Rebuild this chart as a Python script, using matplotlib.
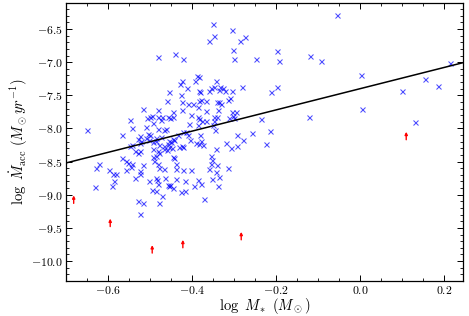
import matplotlib
matplotlib.use("Agg")
import matplotlib.pyplot as plt
from matplotlib.ticker import MultipleLocator

plt.rcParams['font.family'] = 'serif'
plt.rcParams['font.serif'] = ['cmr10', 'DejaVu Serif']
plt.rcParams['mathtext.fontset'] = 'cm'
plt.rcParams['axes.formatter.use_mathtext'] = True

# detections: log M* (Msun), log Macc (Msun/yr)
log_mstar = [
    -0.055, -0.198, -0.248, -0.193, -0.119, -0.093, 0.214, 0.002, 0.154, 0.186,
    0.101, -0.212, -0.198, 0.005, -0.122, -0.236, 0.132, -0.257, -0.214, -0.278,
    -0.225, -0.350, -0.304, -0.348, -0.360, -0.274, -0.286, -0.302, -0.440, -0.421,
    -0.299, -0.482, -0.389, -0.383, -0.424, -0.429, -0.394, -0.343, -0.413, -0.356,
    -0.349, -0.333, -0.327, -0.281, -0.384, -0.380, -0.360, -0.335, -0.321, -0.305,
    -0.426, -0.460, -0.425, -0.423, -0.409, -0.399, -0.383, -0.378, -0.368, -0.341,
    -0.335, -0.331, -0.315, -0.310, -0.386, -0.368, -0.338, -0.446, -0.458, -0.452,
    -0.445, -0.402, -0.386, -0.383, -0.376, -0.367, -0.347, -0.341, -0.349, -0.311,
    -0.303, -0.295, -0.305, -0.299, -0.386, -0.408, -0.351, -0.345, -0.462, -0.422,
    -0.414, -0.434, -0.410, -0.380, -0.446, -0.442, -0.450, -0.458, -0.404, -0.379,
    -0.293, -0.390, -0.383, -0.375, -0.319, -0.294, -0.307, -0.424, -0.421, -0.430,
    -0.454, -0.448, -0.460, -0.343, -0.355, -0.445, -0.454, -0.516, -0.480, -0.508,
    -0.500, -0.495, -0.482, -0.471, -0.547, -0.492, -0.474, -0.543, -0.510, -0.651,
    -0.567, -0.505, -0.500, -0.482, -0.466, -0.525, -0.529, -0.521, -0.510, -0.503,
    -0.486, -0.474, -0.549, -0.543, -0.525, -0.494, -0.487, -0.478, -0.466, -0.455,
    -0.535, -0.525, -0.529, -0.494, -0.482, -0.478, -0.466, -0.494, -0.486, -0.567,
    -0.557, -0.553, -0.621, -0.629, -0.543, -0.545, -0.598, -0.589, -0.581, -0.557,
    -0.525, -0.517, -0.524, -0.537, -0.587, -0.590, -0.631, -0.490, -0.482, -0.478,
    -0.468, -0.464, -0.486, -0.483, -0.503, -0.482, -0.495, -0.487, -0.455, -0.452,
    -0.471, -0.529, -0.516, -0.479, -0.523, -0.442, -0.352, -0.438, -0.356, -0.359,
    -0.341, -0.315, -0.438, -0.422, -0.402, -0.343, -0.438, -0.418, -0.353, -0.335,
    -0.386, -0.379, -0.395, -0.458, -0.446, -0.339, -0.426, -0.418, -0.371,
]
log_macc = [
    -6.290, -6.830, -6.955, -6.976, -6.905, -6.985, -7.011, -7.191, -7.255, -7.356,
    -7.431, -7.446, -7.375, -7.706, -7.821, -7.851, -7.907, -8.066, -8.032, -8.171,
    -8.227, -6.429, -6.515, -6.601, -6.676, -6.620, -6.680, -6.811, -6.875, -6.955,
    -6.955, -6.920, -7.206, -7.216, -7.281, -7.326, -7.281, -7.291, -7.386, -7.386,
    -7.375, -7.381, -7.390, -7.375, -7.431, -7.450, -7.441, -7.426, -7.431, -7.431,
    -7.502, -7.592, -7.601, -7.716, -7.626, -7.626, -7.581, -7.572, -7.592, -7.601,
    -7.601, -7.626, -7.577, -7.541, -7.676, -7.742, -7.721, -7.751, -7.826, -7.841,
    -7.832, -7.791, -7.832, -7.856, -7.892, -7.892, -7.826, -7.826, -7.892, -7.841,
    -7.806, -7.751, -7.757, -7.841, -7.941, -7.926, -7.941, -8.027, -8.006, -8.057,
    -8.051, -8.092, -8.102, -8.102, -8.156, -8.177, -8.207, -8.231, -8.167, -8.192,
    -8.102, -8.216, -8.231, -8.242, -8.216, -8.257, -8.291, -8.267, -8.276, -8.276,
    -8.282, -8.291, -8.332, -8.306, -8.417, -8.432, -7.450, -7.701, -7.716, -7.841,
    -7.826, -7.817, -7.832, -7.826, -7.871, -7.916, -7.877, -7.991, -7.976, -8.017,
    -8.092, -8.081, -8.102, -8.002, -8.017, -8.117, -8.152, -8.182, -8.141, -8.167,
    -8.141, -8.132, -8.267, -8.242, -8.216, -8.201, -8.182, -8.242, -8.267, -8.192,
    -8.342, -8.342, -8.366, -8.317, -8.342, -8.366, -8.317, -8.432, -8.417, -8.452,
    -8.493, -8.517, -8.532, -8.602, -8.542, -8.583, -8.632, -8.682, -8.682, -8.632,
    -8.643, -8.557, -8.692, -8.752, -8.793, -8.868, -8.877, -8.493, -8.542, -8.592,
    -8.617, -8.742, -8.752, -8.782, -8.793, -8.842, -8.932, -8.943, -8.868, -8.853,
    -9.022, -9.093, -9.117, -9.117, -9.293, -8.452, -8.482, -8.532, -8.532, -8.617,
    -8.553, -8.602, -8.617, -8.628, -8.632, -8.652, -8.757, -8.793, -8.757, -8.733,
    -8.778, -8.832, -8.868, -8.853, -8.892, -8.868, -8.952, -8.943, -9.068,
]

# lower limits (red arrows)
lim_mstar = [-0.682, -0.595, -0.495, -0.422, -0.283, 0.110]
lim_macc = [-9.13, -9.48, -9.88, -9.80, -9.68, -8.17]
arrow_len = 0.12

# linear fit: log Macc = slope * log M* + intercept
fit_slope = 1.60
fit_intercept = -7.40
xlim = (-0.70, 0.245)
ylim = (-10.3, -6.1)

fig = plt.figure(figsize=(4.69, 3.16), dpi=100)
ax = fig.add_axes([0.141, 0.111, 0.846, 0.881])

ax.plot(log_mstar, log_macc, 'x', color='blue', alpha=0.7, markersize=3.6, markeredgewidth=0.75)

for x, y in zip(lim_mstar, lim_macc):
    ax.annotate('', xy=(x, y + arrow_len), xytext=(x, y),
                arrowprops=dict(arrowstyle='-|>', color='red', lw=1.0,
                                mutation_scale=4, shrinkA=0, shrinkB=0))

fx = [xlim[0], xlim[1]]
fy = [fit_slope * v + fit_intercept for v in fx]
ax.plot(fx, fy, color='black', lw=1.1)

ax.set_xlim(*xlim)
ax.set_ylim(*ylim)
ax.xaxis.set_major_locator(MultipleLocator(0.2))
ax.xaxis.set_minor_locator(MultipleLocator(0.05))
ax.yaxis.set_major_locator(MultipleLocator(0.5))
ax.yaxis.set_minor_locator(MultipleLocator(0.1))
ax.tick_params(which='both', direction='in', top=True, right=True, labelsize=8.5)
ax.tick_params(which='major', length=4, width=0.7, pad=2.5)
ax.tick_params(which='minor', length=2, width=0.6)
for s in ax.spines.values():
    s.set_linewidth(0.9)

ax.set_xlabel(r'$\log\ M_*\ (M_\odot)$', fontsize=10.5, labelpad=0)
ax.set_ylabel(r'$\log\ \dot{M}_{\rm acc}\ (M_\odot yr^{-1})$', fontsize=10.5, labelpad=1)

fig.savefig('out.png', dpi=100)
